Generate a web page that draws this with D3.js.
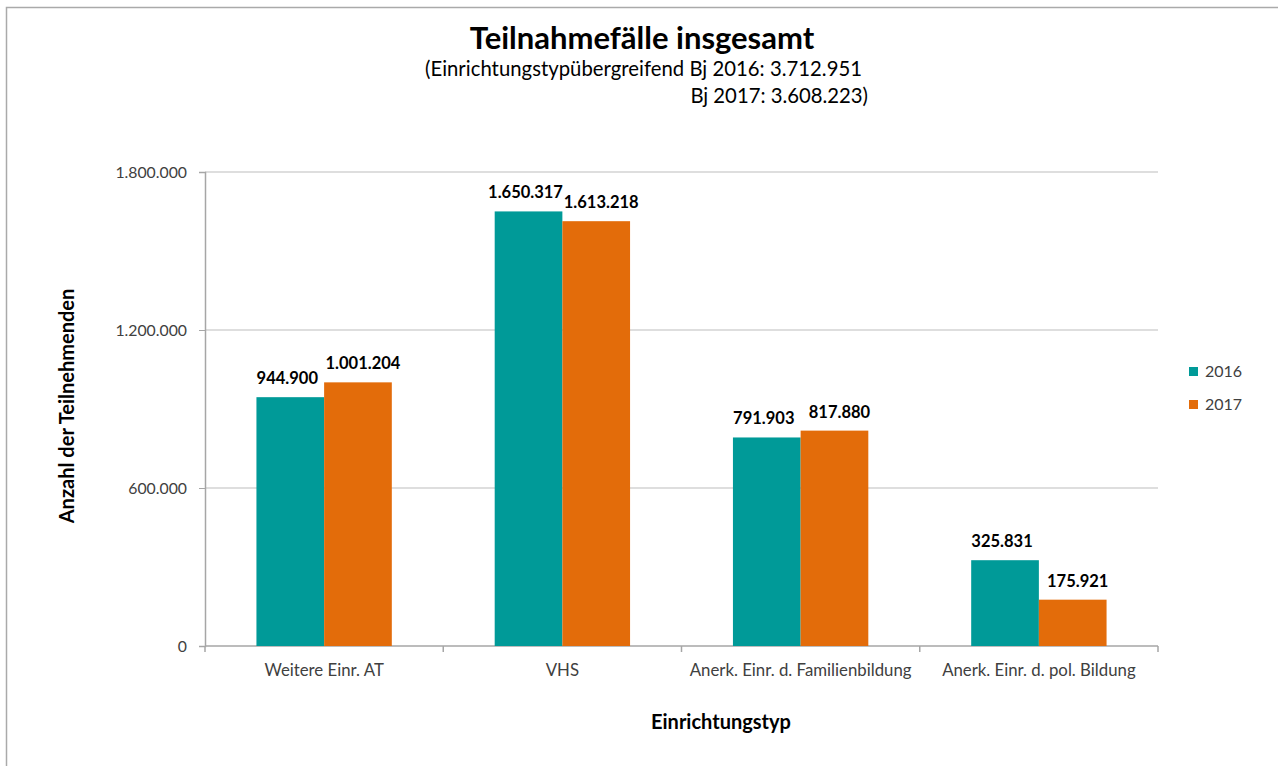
<!DOCTYPE html>
<html>
<head>
<meta charset="utf-8">
<script src="https://cdn.jsdelivr.net/npm/d3@7"></script>
<style>
  body { margin: 0; background: #fff; }
  svg { display: block; font-family: Lato, "Open Sans", sans-serif; }
</style>
</head>
<body>
<div class="canvas"></div>
<script>
// data
const categories = ['Weitere Einr. AT', 'VHS', 'Anerk. Einr. d. Familienbildung', 'Anerk. Einr. d. pol. Bildung'];
const years = ['2016', '2017'];
const values2016 = [944900, 1650317, 791903, 325831];
const values2017 = [1001204, 1613218, 817880, 175921];
const yTicks = [0, 600000, 1200000, 1800000];

const colors = ['#009A98', '#E36C0A'];
const fmt = d3.formatLocale({ decimal: ',', thousands: '.', grouping: [3], currency: ['', '€'] }).format(',d');

const width = 1278, height = 766;
const svg = d3.select('.canvas').append('svg')
    .attr('width', width)
    .attr('height', height);

// outer frame (runs off the right and bottom edge)
svg.append('rect')
    .attr('x', 6.5).attr('y', 7.5)
    .attr('width', width + 10).attr('height', height + 10)
    .attr('fill', 'none')
    .attr('stroke', '#aaa')
    .attr('stroke-width', 1.5);

const plot = { left: 205, right: 1158, top: 172, bottom: 646 };

const x = d3.scaleBand()
    .domain(categories)
    .range([plot.left, plot.right])
    .paddingInner(0)
    .paddingOuter(0);

const xSub = d3.scaleBand()
    .domain(years)
    .range([0, x.bandwidth()])
    .paddingOuter(0.76)
    .paddingInner(0);

const y = d3.scaleLinear()
    .domain([0, 1800000])
    .range([plot.bottom, plot.top]);

// gridlines
svg.append('g')
    .selectAll('line')
    .data(yTicks.slice(1))
    .join('line')
    .attr('x1', plot.left).attr('x2', plot.right)
    .attr('y1', d => y(d)).attr('y2', d => y(d))
    .attr('stroke', '#bdbdbd')
    .attr('stroke-width', 1);

// y axis
const yAxis = svg.append('g')
    .attr('transform', `translate(${plot.left},0)`)
    .call(d3.axisLeft(y).tickValues(yTicks).tickFormat(fmt).tickSize(6).tickPadding(12));
yAxis.select('.domain').attr('stroke', '#a6a6a6').attr('stroke-width', 1.5);
yAxis.selectAll('.tick line').attr('stroke', '#a6a6a6');
yAxis.selectAll('text').attr('fill', '#404040').style('font-size', '15.8px').style('font-family', 'Lato, sans-serif');

// x axis with ticks at the category boundaries
svg.append('line')
    .attr('x1', plot.left).attr('x2', plot.right)
    .attr('y1', plot.bottom).attr('y2', plot.bottom)
    .attr('stroke', '#a6a6a6').attr('stroke-width', 1.5);

const bounds = categories.map(c => x(c)).concat([plot.right]);
svg.append('g')
    .selectAll('line')
    .data(bounds)
    .join('line')
    .attr('x1', d => d).attr('x2', d => d)
    .attr('y1', plot.bottom).attr('y2', plot.bottom + 6)
    .attr('stroke', '#a6a6a6').attr('stroke-width', 1.5);

svg.append('g')
    .selectAll('text')
    .data(categories)
    .join('text')
    .attr('x', d => x(d) + x.bandwidth() / 2)
    .attr('y', 676)
    .attr('text-anchor', 'middle')
    .attr('fill', '#404040')
    .style('font-size', '16.8px')
    .text(d => d);

// bars
const rows = categories.map((c, i) => ({ cat: c, vals: [values2016[i], values2017[i]] }));

const groups = svg.append('g')
    .selectAll('g')
    .data(rows)
    .join('g')
    .attr('transform', d => `translate(${x(d.cat)},0)`);

groups.selectAll('rect')
    .data(d => d.vals.map((v, j) => ({ year: years[j], v, j })))
    .join('rect')
    .attr('x', d => xSub(d.year))
    .attr('width', xSub.bandwidth())
    .attr('y', d => y(d.v))
    .attr('height', d => y(0) - y(d.v))
    .attr('fill', d => colors[d.j]);

groups.selectAll('text')
    .data(d => d.vals.map((v, j) => ({ year: years[j], v, j })))
    .join('text')
    .attr('x', d => xSub(d.year) + xSub.bandwidth() / 2 + (d.j === 0 ? -3 : 5))
    .attr('y', d => y(d.v) - 13)
    .attr('text-anchor', 'middle')
    .attr('fill', '#000')
    .style('font-size', '16.5px')
    .style('font-weight', 'bold')
    .text(d => fmt(d.v));

// titles
svg.append('text')
    .attr('x', 642).attr('y', 49)
    .attr('text-anchor', 'middle')
    .style('font-size', '31px')
    .style('font-weight', 'bold')
    .attr('fill', '#000')
    .text('Teilnahmefälle insgesamt');

svg.append('text')
    .attr('x', 425).attr('y', 76)
    .attr('textLength', 437)
    .style('font-size', '20.3px')
    .attr('fill', '#000')
    .text('(Einrichtungstypübergreifend Bj 2016: 3.712.951');

svg.append('text')
    .attr('x', 868).attr('y', 103)
    .attr('text-anchor', 'end')
    .style('font-size', '20.3px')
    .attr('fill', '#000')
    .text('Bj 2017: 3.608.223)');

// axis titles
svg.append('text')
    .attr('transform', 'translate(74,406) rotate(-90)')
    .attr('text-anchor', 'middle')
    .style('font-size', '20px')
    .style('font-weight', 'bold')
    .attr('fill', '#000')
    .text('Anzahl der Teilnehmenden');

svg.append('text')
    .attr('x', 721).attr('y', 729)
    .attr('text-anchor', 'middle')
    .style('font-size', '20px')
    .style('font-weight', 'bold')
    .attr('fill', '#000')
    .text('Einrichtungstyp');

// legend
const legend = svg.append('g')
    .selectAll('g')
    .data(years)
    .join('g')
    .attr('transform', (d, i) => `translate(1189,${367 + i * 33})`);

legend.append('rect')
    .attr('width', 9).attr('height', 9)
    .attr('fill', (d, i) => colors[i]);

legend.append('text')
    .attr('x', 16).attr('y', 10)
    .style('font-size', '16px')
    .attr('fill', '#404040')
    .text(d => d);
</script>
</body>
</html>
